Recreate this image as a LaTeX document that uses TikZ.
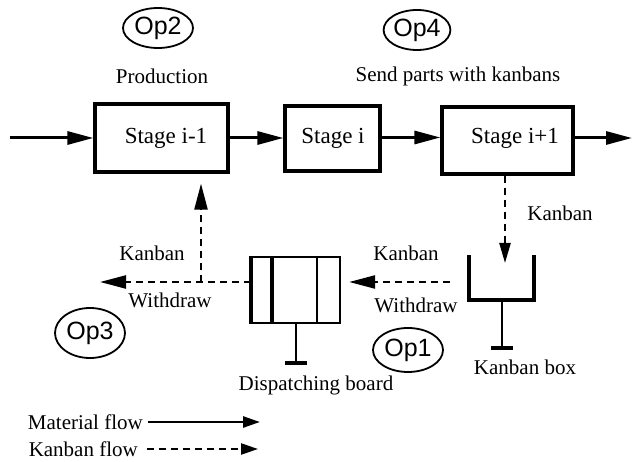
\documentclass[tikz,border=0pt]{standalone}
\usepackage{fontspec}
\setmainfont{Liberation Serif}
\newfontfamily\opfont{Liberation Sans}
\usetikzlibrary{arrows.meta,shapes.geometric,calc}

\tikzset{
  bigtip/.tip={Triangle[length=26pt,width=13pt]},
  smalltip/.tip={Triangle[length=20pt,width=11pt]},
  legtip/.tip={Triangle[length=17pt,width=11pt]},
  stagebox/.style={draw,line width=3.2pt,inner sep=0pt},
  flow/.style={line width=3pt,-bigtip},
  kflow/.style={line width=2.3pt,dash pattern=on 7pt off 5pt},
  oplabel/.style={draw,ellipse,line width=1.8pt,inner sep=0pt,font=\opfont\fontsize{25}{28}\selectfont},
  txt/.style={inner sep=0pt,font=\fontsize{21}{24}\selectfont},
  stagetxt/.style={inner sep=0pt,font=\fontsize{23}{26}\selectfont},
}

\begin{document}
\begin{tikzpicture}[x=1pt,y=-1pt]
\useasboundingbox (0,0) rectangle (635,462);

% production line stages
\node[stagebox,minimum width=133pt,minimum height=68pt] (s1) at (161.5,138) {};
\node[stagetxt] (s1t) at (166,138) {Stage i-1};
\node[stagebox,minimum width=95pt,minimum height=65pt] (s2) at (332.5,138.5) {};
\node[stagetxt] (s2t) at (333,138) {Stage i};
\node[stagebox,minimum width=131pt,minimum height=67pt] (s3) at (507.5,140.5) {};
\node[stagetxt] (s3t) at (515,138) {Stage i+1};

% operation tags and captions
\node[oplabel,minimum width=70pt,minimum height=40pt] (op2) at (158,28) {Op2};
\node[txt] (prod) at (162,76) {Production};
\node[oplabel,minimum width=66pt,minimum height=40pt] (op4) at (417,30) {Op4};
\node[txt] (send) at (458,76) {Send parts with kanbans};
\node[oplabel,minimum width=70pt,minimum height=50pt] (op3) at (90,333) {Op3};
\node[oplabel,minimum width=70pt,minimum height=44pt] (op1) at (408,350) {Op1};

% material flow
\coordinate (in) at (10,138);
\coordinate (out) at (632,138);
\draw[flow] (in) -- (s1.west |- in);
\draw[flow] (s1.east |- in) -- (s2.west |- in);
\draw[flow] ($(s2.east)+(0,-1)$) -- ($(s3.west |- s2.east)+(0,-1)$);
\draw[flow] (s3.east |- in) -- (out);

% dispatching board
\node[draw,line width=2.2pt,minimum width=88pt,minimum height=66pt,inner sep=0pt] (db) at (296,290) {};
\draw[line width=3.4pt] (db.north west) -- (db.south west);
\draw[line width=3.4pt] ($(db.north west)+(21,0)$) -- ($(db.south west)+(21,0)$);
\draw[line width=2.2pt] ($(db.north west)+(66,0)$) -- ($(db.south west)+(66,0)$);
\coordinate (dbfoot) at (296,363);
\draw[line width=2.6pt] (db.south) -- (dbfoot);
\draw[line width=3.8pt] ($(dbfoot)+(-11,0)$) -- ($(dbfoot)+(11,0)$);
\node[txt] (dbl) at (316,385) {Dispatching board};

% kanban box
\coordinate (kbl) at (469,255);
\coordinate (kbr) at (534,255);
\coordinate (kbc) at (502,300);
\draw[line width=3.4pt] (kbl) -- (kbl |- kbc) -- (kbr |- kbc) -- (kbr);
\coordinate (kbfoot) at (502,348);
\draw[line width=2.6pt] (kbc) -- (kbfoot);
\draw[line width=3.8pt] ($(kbfoot)+(-11,0)$) -- ($(kbfoot)+(11,0)$);
\node[txt] (kbt) at (525,367) {Kanban box};

% kanban flow
\coordinate (kbin) at (505,263);
\draw[kflow,-smalltip] (s3.south -| kbin) -- (kbin);
\node[txt] (k1) at (560,213) {Kanban};

\coordinate (kbout) at (450,282);
\draw[kflow,-bigtip] (kbout) -- ($(db.east |- kbout)+(8,0)$);
\node[txt] (k2) at (406,253) {Kanban};
\node[txt] (w2) at (416,305) {Withdraw};

\coordinate (wend) at (100,282);
\coordinate (turn) at (201,282);
\draw[kflow,-bigtip] (db.west |- wend) -- (wend);
\draw[kflow,-bigtip] (turn) -- ($(s1.south -| turn)+(0,10)$);
\node[txt] (k3) at (152,253) {Kanban};
\node[txt] (w3) at (170,300) {Withdraw};

% legend
\node[txt,anchor=east] (lm) at (143,422) {Material flow};
\coordinate (lmend) at (260,422);
\draw[line width=2.6pt,-legtip] ($(lm.east)+(5,0)$) -- (lmend);
\node[txt,anchor=east] (lk) at (138,449) {Kanban flow};
\coordinate (lkend) at (258,449);
\draw[kflow,-legtip] ($(lk.east)+(9,0)$) -- (lkend);
\end{tikzpicture}
\end{document}
